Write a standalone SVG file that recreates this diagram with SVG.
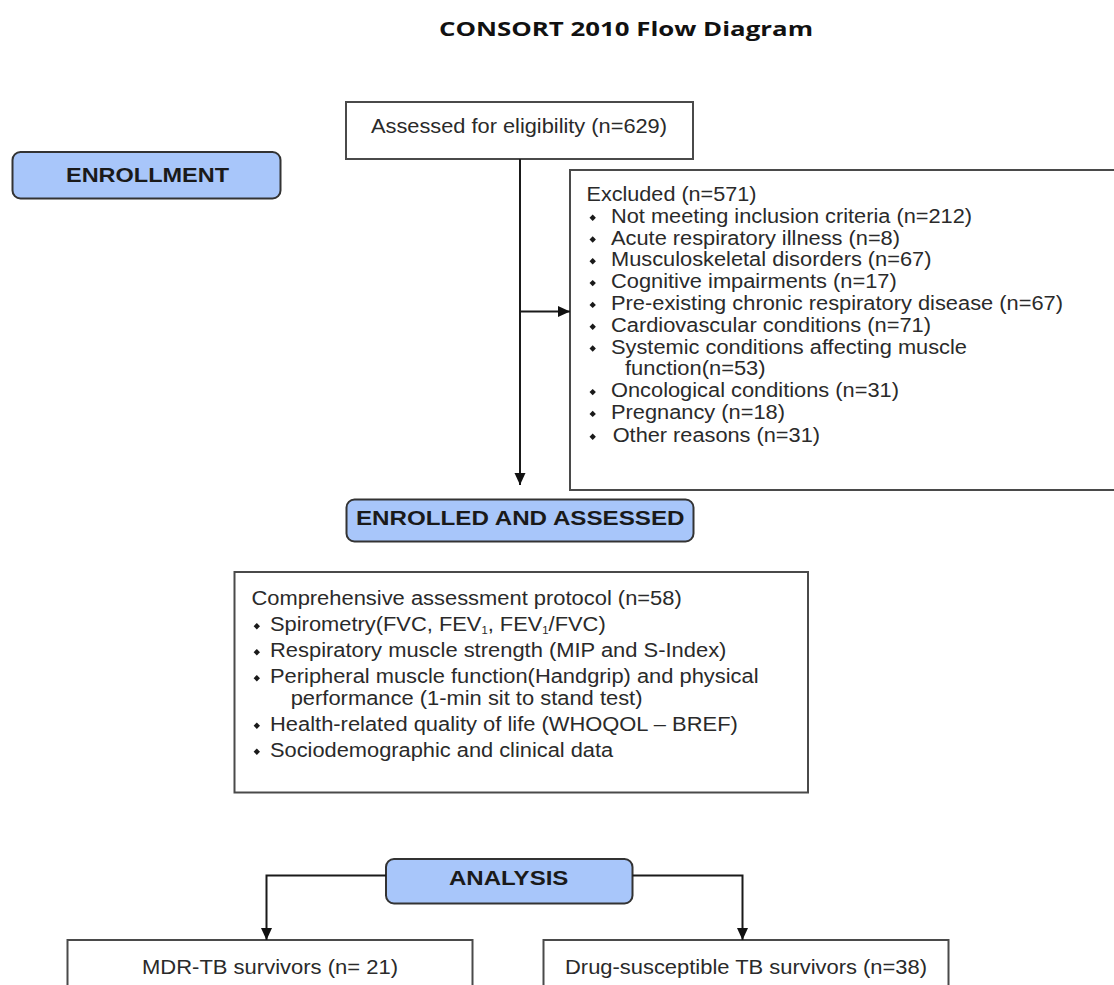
<svg xmlns="http://www.w3.org/2000/svg" width="1114" height="985" viewBox="0 0 1114 985">
<defs>
<marker id="arr" markerUnits="userSpaceOnUse" markerWidth="13" markerHeight="12" refX="12" refY="5.5" orient="auto">
<path d="M0,0 L12,5.5 L0,11 z" fill="#111"/>
</marker>
<style>
.box{fill:#fff;stroke:#4a4a4a;stroke-width:2}
.phase{fill:#a8c6fa;stroke:#333;stroke-width:2}
.t{font-family:"Liberation Sans",Arial,sans-serif;font-size:19.5px;fill:#2a2a2a}
.h{font-family:"Liberation Sans",Arial,sans-serif;font-size:20px;font-weight:bold;fill:#1a1a1a}
.title{font-family:"Open Sans","Liberation Sans",sans-serif;font-size:19.5px;font-weight:bold;fill:#111}
.bul{fill:#1a1a1a}
.ln{fill:none;stroke:#1a1a1a;stroke-width:2}
</style>
</defs>
<text class="title" x="439" y="36" textLength="374" lengthAdjust="spacingAndGlyphs">CONSORT 2010 Flow Diagram</text>

<g id="enrollment">
<rect class="phase" x="12.5" y="152" width="268" height="46.5" rx="8"/>
<text class="h" x="66" y="182" textLength="163" lengthAdjust="spacingAndGlyphs">ENROLLMENT</text>
</g>

<g id="assessed">
<rect class="box" x="346" y="102" width="347" height="57"/>
<text class="t" x="371" y="133" textLength="296" lengthAdjust="spacingAndGlyphs">Assessed for eligibility (n=629)</text>
</g>

<g id="excluded">
<rect class="box" x="570" y="170" width="600" height="320"/>
<text class="t" x="586.5" y="201" textLength="170" lengthAdjust="spacingAndGlyphs">Excluded (n=571)</text>
<g class="bul">
<path d="M592.7,214.5 l3.2,3.2 -3.2,3.2 -3.2,-3.2z"/>
<path d="M592.7,236.3 l3.2,3.2 -3.2,3.2 -3.2,-3.2z"/>
<path d="M592.7,258.1 l3.2,3.2 -3.2,3.2 -3.2,-3.2z"/>
<path d="M592.7,279.9 l3.2,3.2 -3.2,3.2 -3.2,-3.2z"/>
<path d="M592.7,301.7 l3.2,3.2 -3.2,3.2 -3.2,-3.2z"/>
<path d="M592.7,323.5 l3.2,3.2 -3.2,3.2 -3.2,-3.2z"/>
<path d="M592.7,345.3 l3.2,3.2 -3.2,3.2 -3.2,-3.2z"/>
<path d="M592.7,388.9 l3.2,3.2 -3.2,3.2 -3.2,-3.2z"/>
<path d="M592.7,410.7 l3.2,3.2 -3.2,3.2 -3.2,-3.2z"/>
<path d="M592.7,433.5 l3.2,3.2 -3.2,3.2 -3.2,-3.2z"/>
</g>
<text class="t" x="611" y="222.8" textLength="361" lengthAdjust="spacingAndGlyphs">Not meeting inclusion criteria (n=212)</text>
<text class="t" x="611" y="244.6" textLength="289" lengthAdjust="spacingAndGlyphs">Acute respiratory illness (n=8)</text>
<text class="t" x="611" y="266.4" textLength="320.5" lengthAdjust="spacingAndGlyphs">Musculoskeletal disorders (n=67)</text>
<text class="t" x="611" y="288.2" textLength="285.7" lengthAdjust="spacingAndGlyphs">Cognitive impairments (n=17)</text>
<text class="t" x="611" y="310" textLength="452" lengthAdjust="spacingAndGlyphs">Pre-existing chronic respiratory disease (n=67)</text>
<text class="t" x="611" y="331.8" textLength="320" lengthAdjust="spacingAndGlyphs">Cardiovascular conditions (n=71)</text>
<text class="t" x="611" y="353.6" textLength="356" lengthAdjust="spacingAndGlyphs">Systemic conditions affecting muscle</text>
<text class="t" x="625" y="375.4" textLength="140.6" lengthAdjust="spacingAndGlyphs">function(n=53)</text>
<text class="t" x="611" y="397.2" textLength="288" lengthAdjust="spacingAndGlyphs">Oncological conditions (n=31)</text>
<text class="t" x="611" y="419" textLength="174" lengthAdjust="spacingAndGlyphs">Pregnancy (n=18)</text>
<text class="t" x="612.7" y="441.8" textLength="207.3" lengthAdjust="spacingAndGlyphs">Other reasons (n=31)</text>
</g>

<g id="enrolled">
<rect class="phase" x="346.5" y="499.5" width="347" height="42" rx="8"/>
<text class="h" x="356" y="524.5" textLength="328.5" lengthAdjust="spacingAndGlyphs">ENROLLED AND ASSESSED</text>
</g>

<g id="protocol">
<rect class="box" x="234.5" y="572" width="573.5" height="220.5"/>
<text class="t" x="251.4" y="604.5" textLength="430.4" lengthAdjust="spacingAndGlyphs">Comprehensive assessment protocol (n=58)</text>
<g class="bul">
<path d="M256.8,623 l3.2,3.2 -3.2,3.2 -3.2,-3.2z"/>
<path d="M256.8,649 l3.2,3.2 -3.2,3.2 -3.2,-3.2z"/>
<path d="M256.8,675 l3.2,3.2 -3.2,3.2 -3.2,-3.2z"/>
<path d="M256.8,722.5 l3.2,3.2 -3.2,3.2 -3.2,-3.2z"/>
<path d="M256.8,748.5 l3.2,3.2 -3.2,3.2 -3.2,-3.2z"/>
</g>
<text class="t" x="270" y="631" textLength="335.7" lengthAdjust="spacingAndGlyphs">Spirometry(FVC, FEV<tspan font-size="10" dy="3">1</tspan><tspan dy="-3">, FEV</tspan><tspan font-size="10" dy="3">1</tspan><tspan dy="-3">/FVC)</tspan></text>
<text class="t" x="270" y="657" textLength="456.4" lengthAdjust="spacingAndGlyphs">Respiratory muscle strength (MIP and S-Index)</text>
<text class="t" x="270" y="683" textLength="488.5" lengthAdjust="spacingAndGlyphs">Peripheral muscle function(Handgrip) and physical</text>
<text class="t" x="290.7" y="705" textLength="351.8" lengthAdjust="spacingAndGlyphs">performance (1-min sit to stand test)</text>
<text class="t" x="270" y="730.5" textLength="467.8" lengthAdjust="spacingAndGlyphs">Health-related quality of life (WHOQOL – BREF)</text>
<text class="t" x="270" y="756.5" textLength="343.2" lengthAdjust="spacingAndGlyphs">Sociodemographic and clinical data</text>
</g>

<g id="analysis">
<rect class="phase" x="386" y="859" width="246.5" height="44.5" rx="8"/>
<text class="h" x="449" y="884.5" font-size="19" textLength="119.4" lengthAdjust="spacingAndGlyphs">ANALYSIS</text>
</g>

<g id="mdr">
<rect class="box" x="67.5" y="940" width="405" height="80"/>
<text class="t" x="142" y="973.5" textLength="256" lengthAdjust="spacingAndGlyphs">MDR-TB survivors (n= 21)</text>
</g>

<g id="ds">
<rect class="box" x="543.5" y="940" width="405" height="80"/>
<text class="t" x="565" y="973.5" textLength="362" lengthAdjust="spacingAndGlyphs">Drug-susceptible TB survivors (n=38)</text>
</g>

<g id="connectors">
<path class="ln" d="M520,159 V485" marker-end="url(#arr)"/>
<path class="ln" d="M520,311.5 H570" marker-end="url(#arr)"/>
<path class="ln" d="M386,875.5 H266.5 V940" marker-end="url(#arr)"/>
<path class="ln" d="M632.5,875.5 H742.5 V940" marker-end="url(#arr)"/>
</g>
</svg>
